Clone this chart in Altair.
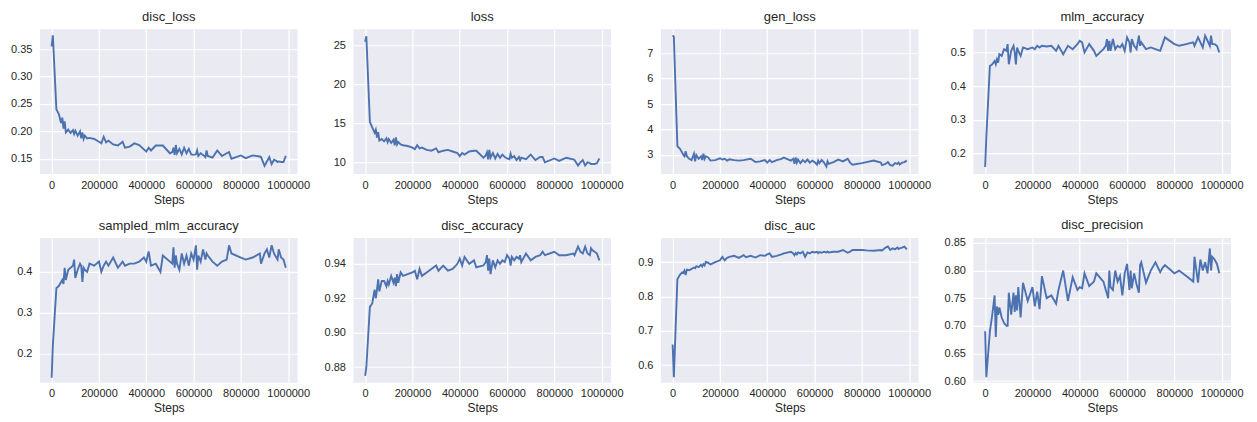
import altair as alt
import pandas as pd

steps = [0, 5000, 20000, 30000, 40000, 45000, 50000, 55000, 60000, 70000,
         80000, 90000, 95000, 100000, 110000, 120000, 125000, 130000, 135000, 140000,
         150000, 160000, 180000, 200000, 210000, 220000, 230000, 240000, 260000, 280000,
         300000, 310000, 330000, 350000, 370000, 390000, 400000, 410000, 420000, 440000,
         460000, 470000, 500000, 510000, 515000, 520000, 525000, 530000, 540000, 550000,
         560000, 570000, 580000, 590000, 600000, 610000, 615000, 620000, 630000, 640000,
         650000, 655000, 660000, 680000, 700000, 720000, 740000, 750000, 760000, 800000,
         820000, 850000, 880000, 885000, 900000, 910000, 920000, 930000, 940000, 950000,
         955000, 960000, 970000, 980000, 990000]

disc_loss = [0.355, 0.375, 0.24, 0.232, 0.215, 0.225, 0.205, 0.218, 0.198, 0.203,
             0.197, 0.202, 0.195, 0.201, 0.192, 0.200, 0.187, 0.198, 0.186, 0.192,
             0.187, 0.188, 0.186, 0.181, 0.178, 0.19, 0.18, 0.183, 0.176, 0.174,
             0.181, 0.17, 0.172, 0.178, 0.175, 0.167, 0.163, 0.17, 0.165, 0.174,
             0.174, 0.174, 0.16, 0.162, 0.17, 0.157, 0.175, 0.16, 0.168, 0.158,
             0.17, 0.16, 0.168, 0.158, 0.157, 0.158, 0.165, 0.155, 0.16, 0.157,
             0.153, 0.165, 0.155, 0.152, 0.165, 0.155, 0.16, 0.162, 0.15, 0.156,
             0.151, 0.156, 0.154, 0.153, 0.137, 0.145, 0.153, 0.14, 0.148, 0.146,
             0.144, 0.145, 0.144, 0.144, 0.155]

loss = [25.5, 26.2, 15.2, 14.5, 13.8, 14.2, 13.2, 13.9, 12.8, 13.0,
        12.7, 13.1, 12.6, 13.0, 12.5, 12.9, 12.2, 13.2, 12.3, 12.6,
        12.3, 12.2, 12.1, 11.9, 11.7, 12.2, 11.8, 11.9, 11.6, 11.5,
        11.8, 11.3, 11.5, 11.6, 11.4, 11.2, 10.8, 11.2, 11.0, 11.4,
        11.5, 11.5, 10.6, 10.9, 11.3, 10.4, 11.6, 10.6, 11.2, 10.5,
        11.1, 10.6, 11.0, 10.7, 10.5, 10.4, 11.1, 10.6, 10.8, 10.3,
        10.7, 10.3, 10.6, 10.4, 11.0, 10.3, 10.7, 10.7, 10.0, 10.5,
        10.2, 10.6, 10.4, 10.3, 9.6, 10.0, 10.3, 9.6, 10.0, 9.9,
        9.8, 9.8, 9.8, 9.9, 10.5]

gen_loss = [7.7, 7.65, 3.35, 3.25, 3.1, 3.0, 2.95, 3.15, 2.95, 2.85,
            2.8, 3.05, 2.75, 3.0, 2.85, 2.95, 2.8, 3.05, 2.85, 2.95,
            2.9, 2.78, 2.8, 2.87, 2.82, 2.85, 2.78, 2.83, 2.8, 2.78,
            2.8, 2.82, 2.85, 2.72, 2.75, 2.8, 2.7, 2.8, 2.72, 2.8,
            2.85, 2.9, 2.78, 2.85, 2.65, 2.9, 2.7, 2.82, 2.68, 2.8,
            2.72, 2.82, 2.7, 2.78, 2.72, 2.62, 2.78, 2.68, 2.8, 2.7,
            2.55, 2.75, 2.65, 2.72, 2.82, 2.75, 2.85, 2.7, 2.62, 2.68,
            2.72, 2.78, 2.7, 2.6, 2.65, 2.72, 2.6, 2.58, 2.68, 2.65,
            2.7, 2.62, 2.7, 2.72, 2.78]

mlm_accuracy = [0.16, 0.25, 0.46, 0.465, 0.475, 0.465, 0.48, 0.47, 0.495, 0.49,
                0.51, 0.505, 0.525, 0.465, 0.505, 0.52, 0.5, 0.465, 0.515, 0.505,
                0.49, 0.515, 0.51, 0.515, 0.51, 0.52, 0.515, 0.52, 0.518, 0.52,
                0.505, 0.52, 0.495, 0.52, 0.51, 0.525, 0.535, 0.53, 0.5, 0.525,
                0.505, 0.49, 0.51, 0.52, 0.54, 0.505, 0.535, 0.505, 0.54, 0.51,
                0.52, 0.515, 0.525, 0.505, 0.545, 0.53, 0.5, 0.54, 0.52, 0.51,
                0.55, 0.52, 0.53, 0.51, 0.515, 0.51, 0.505, 0.525, 0.545, 0.525,
                0.52, 0.525, 0.53, 0.52, 0.545, 0.53, 0.515, 0.55, 0.535, 0.52,
                0.55, 0.525, 0.525, 0.52, 0.5]

sampled_mlm_accuracy = [0.14, 0.22, 0.36, 0.365, 0.375, 0.38, 0.37, 0.41, 0.38, 0.405,
                        0.41, 0.415, 0.43, 0.385, 0.405, 0.42, 0.415, 0.375, 0.41, 0.405,
                        0.40, 0.42, 0.415, 0.425, 0.40, 0.415, 0.425, 0.415, 0.435, 0.41,
                        0.425, 0.415, 0.42, 0.42, 0.425, 0.435, 0.425, 0.45, 0.415, 0.42,
                        0.40, 0.44, 0.425, 0.42, 0.46, 0.41, 0.44, 0.42, 0.405, 0.445,
                        0.42, 0.44, 0.415, 0.445, 0.43, 0.465, 0.405, 0.44, 0.425, 0.455,
                        0.43, 0.445, 0.44, 0.425, 0.415, 0.425, 0.43, 0.465, 0.445, 0.435,
                        0.43, 0.435, 0.445, 0.42, 0.445, 0.455, 0.435, 0.465, 0.445, 0.435,
                        0.43, 0.455, 0.435, 0.43, 0.41]

disc_accuracy = [0.875, 0.88, 0.915, 0.917, 0.925, 0.92, 0.925, 0.931, 0.924, 0.93,
                 0.93, 0.927, 0.93, 0.928, 0.933, 0.929, 0.932, 0.927, 0.934, 0.929,
                 0.935, 0.933, 0.934, 0.935, 0.936, 0.931, 0.937, 0.933, 0.935, 0.937,
                 0.939, 0.936, 0.939, 0.936, 0.937, 0.94, 0.943, 0.939, 0.944, 0.94,
                 0.942, 0.938, 0.939, 0.941, 0.945, 0.936, 0.943, 0.934, 0.942, 0.938,
                 0.942, 0.94, 0.942, 0.941, 0.945, 0.943, 0.939, 0.944, 0.942, 0.944,
                 0.943, 0.945, 0.941, 0.946, 0.942, 0.944, 0.945, 0.947, 0.945, 0.947,
                 0.945, 0.945, 0.946, 0.945, 0.95, 0.947, 0.946, 0.95, 0.946, 0.945,
                 0.949, 0.948, 0.947, 0.946, 0.942]

disc_auc = [0.66, 0.565, 0.85, 0.862, 0.87, 0.868, 0.875, 0.862, 0.878, 0.876,
            0.88, 0.884, 0.882, 0.888, 0.885, 0.892, 0.887, 0.894, 0.89, 0.9,
            0.898, 0.893, 0.9, 0.905, 0.915, 0.905, 0.912, 0.915, 0.918, 0.912,
            0.92, 0.914, 0.918, 0.913, 0.92, 0.918, 0.922, 0.925, 0.915, 0.918,
            0.922, 0.925, 0.93, 0.925, 0.92, 0.926, 0.922, 0.928, 0.925, 0.93,
            0.915, 0.928, 0.925, 0.93, 0.928, 0.93, 0.926, 0.929, 0.927, 0.93,
            0.928, 0.93, 0.928, 0.93, 0.93, 0.935, 0.927, 0.93, 0.935, 0.935,
            0.934, 0.933, 0.935, 0.933, 0.942, 0.945, 0.935, 0.94, 0.937, 0.942,
            0.938, 0.94, 0.942, 0.945, 0.937]

disc_precision = [0.69, 0.607, 0.69, 0.72, 0.755, 0.68, 0.735, 0.72, 0.733, 0.715,
                  0.705, 0.70, 0.70, 0.76, 0.72, 0.76, 0.725, 0.755, 0.728, 0.77,
                  0.715, 0.778, 0.745, 0.77, 0.735, 0.762, 0.73, 0.79, 0.75, 0.755,
                  0.74, 0.765, 0.80, 0.745, 0.788, 0.765, 0.77, 0.768, 0.795, 0.772,
                  0.78, 0.795, 0.78, 0.765, 0.758, 0.75, 0.80, 0.77, 0.765, 0.80,
                  0.78, 0.79, 0.755, 0.795, 0.812, 0.765, 0.80, 0.768, 0.795, 0.775,
                  0.76, 0.81, 0.815, 0.778, 0.80, 0.815, 0.797, 0.805, 0.81, 0.795,
                  0.80, 0.79, 0.78, 0.825, 0.778, 0.82, 0.80, 0.815, 0.795, 0.84,
                  0.80, 0.825, 0.82, 0.812, 0.795]

x_ticks = [0, 200000, 400000, 600000, 800000, 1000000]
y_ticks = {
    "disc_loss": [0.15, 0.20, 0.25, 0.30, 0.35],
    "loss": [10, 15, 20, 25],
    "gen_loss": [3, 4, 5, 6, 7],
    "mlm_accuracy": [0.2, 0.3, 0.4, 0.5],
    "sampled_mlm_accuracy": [0.2, 0.3, 0.4],
    "disc_accuracy": [0.88, 0.90, 0.92, 0.94],
    "disc_auc": [0.6, 0.7, 0.8, 0.9],
    "disc_precision": [0.60, 0.65, 0.70, 0.75, 0.80, 0.85],
}
y_formats = {
    "disc_loss": ".2f", "loss": "d", "gen_loss": "d", "mlm_accuracy": ".1f",
    "sampled_mlm_accuracy": ".1f", "disc_accuracy": ".2f", "disc_auc": ".1f",
    "disc_precision": ".2f",
}
y_domains = {
    "disc_loss": [0.122, 0.386],
    "loss": [8.5, 27.1],
    "gen_loss": [2.25, 7.94],
    "mlm_accuracy": [0.139, 0.569],
    "sampled_mlm_accuracy": [0.128, 0.483],
    "disc_accuracy": [0.871, 0.955],
    "disc_auc": [0.549, 0.970],
    "disc_precision": [0.597, 0.859],
}

series = {
    "disc_loss": disc_loss, "loss": loss, "gen_loss": gen_loss,
    "mlm_accuracy": mlm_accuracy, "sampled_mlm_accuracy": sampled_mlm_accuracy,
    "disc_accuracy": disc_accuracy, "disc_auc": disc_auc, "disc_precision": disc_precision,
}
order = [["disc_loss", "loss", "gen_loss", "mlm_accuracy"],
         ["sampled_mlm_accuracy", "disc_accuracy", "disc_auc", "disc_precision"]]
extents = [32, 37, 31, 36]

FONT = "Liberation Sans"
TXT = "#262626"
W, H = 258, 145


def panel(name, extent):
    df = pd.DataFrame({"Steps": steps, "value": series[name]})
    return alt.Chart(df).mark_line(color="#4C72B0", strokeWidth=1.9, clip=True).encode(
        x=alt.X("Steps:Q",
                scale=alt.Scale(domain=[-49500, 1039500], nice=False, zero=False),
                axis=alt.Axis(values=x_ticks, format="d", title="Steps",
                              labelPadding=5, titlePadding=4)),
        y=alt.Y("value:Q",
                scale=alt.Scale(domain=y_domains[name], nice=False, zero=False),
                axis=alt.Axis(values=y_ticks[name], format=y_formats[name], title=None,
                              labelPadding=8, minExtent=extent)),
    ).properties(
        width=W, height=H,
        title=alt.TitleParams(name, fontSize=13, font=FONT, color=TXT, offset=5,
                              frame="group", anchor="middle", fontWeight="normal"),
    )


rows = []
for r in order:
    rows.append(alt.hconcat(*[panel(n, e) for n, e in zip(r, extents)], spacing=6))

chart = alt.vconcat(*rows, spacing=13).properties(
    padding={"left": 0, "top": 3, "right": 5, "bottom": 5},
    background="white",
).configure_view(
    fill="#EAEAF2", strokeWidth=0
).configure_axis(
    domain=False, ticks=False, tickSize=0, grid=True, gridColor="white", gridWidth=1.2,
    gridOpacity=1,
    labelFont=FONT, labelFontSize=11, labelColor=TXT,
    titleFont=FONT, titleFontSize=12, titleColor=TXT, titleFontWeight="normal",
)

chart.save("out.html", embed_options={"renderer": "svg", "actions": False})
